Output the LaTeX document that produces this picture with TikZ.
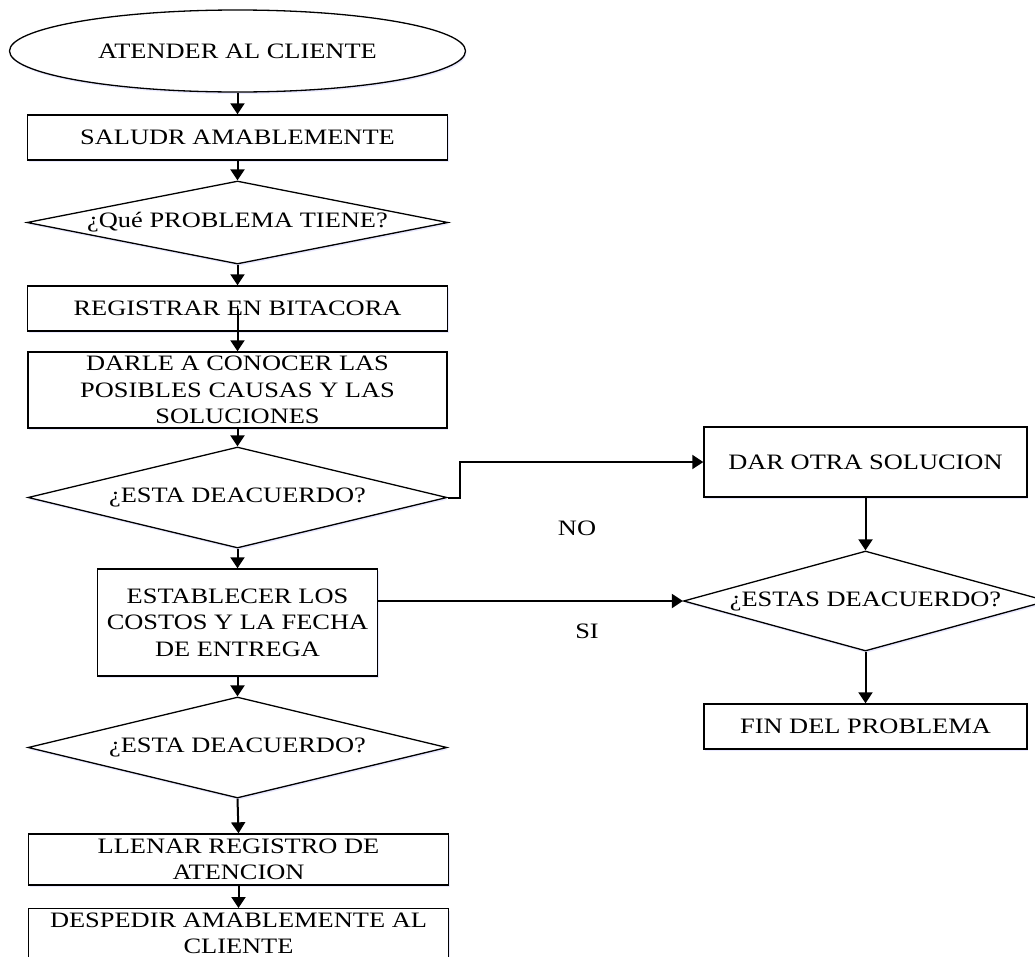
\documentclass[tikz,border=0pt]{standalone}
\usepackage{fontspec}
\setmainfont{Liberation Serif}[FakeStretch=1.2]
\usetikzlibrary{shapes.geometric,arrows.meta,shadows}
\begin{document}
\begin{tikzpicture}[x=1pt,y=-1pt,
  every node/.style={font=\fontsize{22}{26.5}\selectfont, inner sep=0pt},
  softshadow/.style={drop shadow={shadow xshift=1pt,shadow yshift=-2pt,fill=blue!35,opacity=0.25}},
  proc/.style={draw,line width=1.4pt,fill=white,rectangle,align=center,softshadow},
  dec/.style={draw,line width=1.3pt,fill=white,diamond,softshadow},
  term/.style={draw,line width=1.3pt,fill=white,ellipse,softshadow},
  arr/.style={line width=2pt,-{Triangle[length=11pt,width=14pt]}}]

\useasboundingbox (0,0) rectangle (1035,956);
\clip (0,0) rectangle (1035,956);

% main column
\node[term,minimum width=456pt,minimum height=82pt] (ell) at (237.5,51) {ATENDER AL CLIENTE};
\node[proc,minimum width=420pt,minimum height=45pt] (sal) at (237.5,137.5) {SALUDR AMABLEMENTE};
\node[dec,minimum width=421pt,minimum height=83pt] (q1) at (237.5,222.5) {\makebox[0pt]{¿Qué PROBLEMA TIENE?}};
\node[proc,minimum width=420pt,minimum height=45pt] (reg) at (237.5,308.5) {REGISTRAR EN BITACORA};
\node[proc,minimum width=419pt,minimum height=76pt] (darle) at (237.5,390) {DARLE A CONOCER LAS\\POSIBLES CAUSAS Y LAS\\SOLUCIONES};
\node[dec,minimum width=419pt,minimum height=101pt] (q2) at (237.5,497.5) {\makebox[0pt]{¿ESTA DEACUERDO?}};
\node[proc,minimum width=280pt,minimum height=107pt] (est) at (237.5,622.5) {ESTABLECER LOS\\COSTOS Y LA FECHA\\DE ENTREGA};
\node[dec,minimum width=419pt,minimum height=101pt] (q4) at (237.5,747.5) {\makebox[0pt]{¿ESTA DEACUERDO?}};
\node[proc,minimum width=420pt,minimum height=51pt] (llen) at (238.5,859.5) {LLENAR REGISTRO DE\\ATENCION};
\node[proc,minimum width=420pt,minimum height=49pt,anchor=north] (desp) at (238.5,908) {DESPEDIR AMABLEMENTE AL\\CLIENTE};

% right column
\node[proc,minimum width=323pt,minimum height=70pt] (dar) at (865.5,462) {DAR OTRA SOLUCION};
\node[dec,minimum width=364pt,minimum height=100pt] (q3) at (865.5,601) {\makebox[0pt]{¿ESTAS DEACUERDO?}};
\node[proc,minimum width=323pt,minimum height=45pt] (fin) at (865.5,726.5) {FIN DEL PROBLEMA};

% branch labels
\node (no) at (577,528) {NO};
\node (si) at (587,631) {SI};

% connectors
\draw[arr] (ell.south) -- (sal.north);
\draw[arr] (sal.south) -- (q1.north);
\draw[arr] (q1.south) -- (reg.north);
\draw[arr] (reg.center) -- (darle.north);
\draw[arr] (darle.south) -- (q2.north);
\draw[arr] (q2.south) -- (est.north);
\draw[arr] (est.south) -- (q4.north);
\draw[arr] (q4.south) -- (llen.north);
\draw[arr] (llen.south) -- (desp.north);
\draw[arr] (q2.east) -- ++(12,0) |- (dar.west);
\draw[arr] (est.east |- q3.west) -- (q3.west);
\draw[arr] (dar.south) -- (q3.north);
\draw[arr] (q3.south) -- (fin.north);
\end{tikzpicture}
\end{document}
